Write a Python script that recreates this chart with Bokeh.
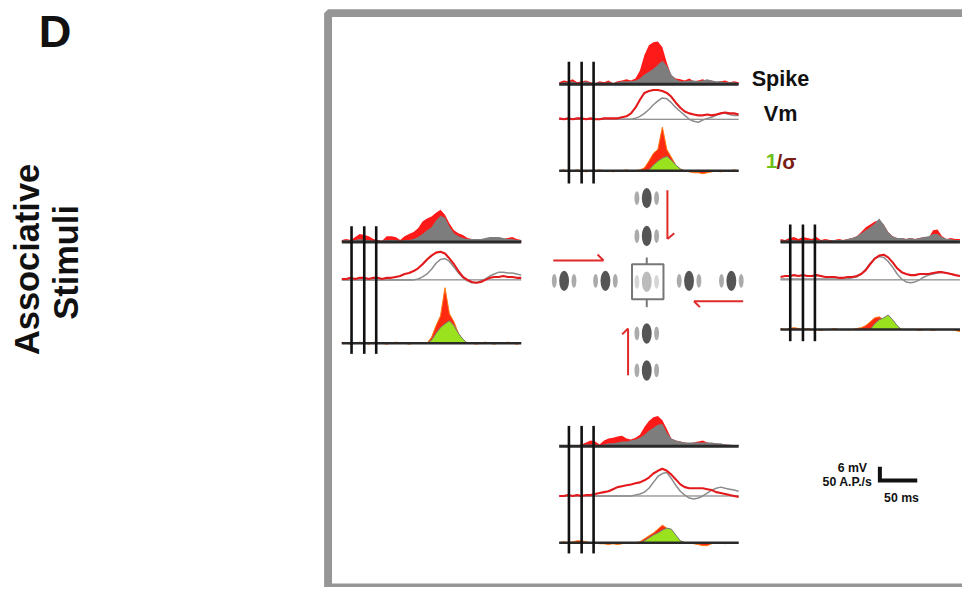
import math
from bokeh.plotting import figure
from bokeh.models import Range1d, Label, ColumnDataSource
from bokeh.embed import file_html
from bokeh.resources import INLINE

# ---------------- data ----------------
T_MS = list(range(0, 241, 6))          # sample times, ms
STIM_ONSETS_MS = [13, 30, 46]          # vertical stimulus markers, ms

# spike rate, A.P./s
top_spike_red = [7,14,11,18,7,11,14,7,4,11, 7,14,4,11,14,18,14,21,50,107, 143,154,157,136,79,32,21,18,14,21, 11,14,18,11,14,7,11,14,7,11, 7]
top_spike_grey = [4,7,7,11,4,7,11,4,4,7, 4,7,4,7,11,11,11,14,21,36, 46,57,71,86,68,36,18,11,11,14, 14,11,14,18,14,11,11,7,7,7, 4]
left_spike_red = [7,11,7,18,29,25,21,11,7,4, 21,21,18,7,21,29,36,50,75,86, 93,107,118,100,68,43,32,25,14,11, 11,11,7,11,11,11,11,14,18,11, 7]
left_spike_grey = [4,7,4,7,11,7,7,4,4,4, 7,7,7,4,7,7,11,18,29,43, 54,79,96,89,57,32,21,14,11,11, 11,11,14,18,18,18,14,11,11,7, 7]
right_spike_red = [11,7,14,18,11,18,14,11,18,7, 11,7,7,11,7,11,14,21,36,54, 64,75,79,64,36,21,14,14,11,14, 11,14,18,14,43,46,21,11,14,11, 11]
right_spike_grey = [4,4,7,7,4,7,7,7,7,4, 7,4,7,7,7,11,14,21,32,43, 54,68,86,64,36,21,14,14,11,14, 11,14,18,21,29,29,18,11,11,7, 7]
bottom_spike_red = [4,0,4,4,4,7,14,21,18,7, 21,29,32,36,39,29,25,32,43,71, 93,107,111,96,64,29,21,18,14,11, 14,18,21,14,11,11,7,7,4,4, 4]
bottom_spike_grey = [4,0,4,4,4,4,7,7,7,4, 7,11,11,14,18,18,21,25,32,43, 57,68,79,82,50,29,21,18,14,14, 14,14,14,14,14,11,11,7,7,4, 4]

# membrane potential, mV
top_vm_red = [0.4,0,0.4,0,0.4,0.4,0,0.4,0,0, 0.4,0.4,0.4,0.4,0.9,1.3,2.6,5.1,8.6,11.6, 12.4,12.9,12.9,12.4,11.6,9.9,7.3,5.1,3.4,2.6, 2.1,1.7,1.7,2.1,1.7,2.1,2.6,3.0,2.6,2.6, 2.1]
top_vm_grey = [0,0,0,0,0,0,0,0,0,0, 0,0,0,0,0,0,0,0.4,1.3,2.6, 4.3,6.4,8.1,9.4,9.0,7.3,5.1,3.4,1.7,0, -0.9,-1.3,-0.4,0.4,0.9,1.7,2.6,2.6,2.1,1.7, 1.7]
left_vm_red = [0.4,0.4,0.9,0.4,0.9,0.9,0.4,0.9,0.9,0.4, 0.9,0.9,1.3,1.7,2.6,3.0,3.9,5.1,6.9,9.0, 10.7,12.0,12.4,11.6,9.4,6.9,3.9,1.3,0,-0.9, -1.3,-0.9,0,0.9,1.3,1.3,1.7,1.3,1.3,0.9, 0.9]
left_vm_grey = [0,0,0,0,0,0,0,0,0,0, 0,0,0,0,0,0,0,0.4,1.3,2.6, 4.7,7.3,9.0,9.4,8.1,5.6,3.0,0.9,-0.4,-1.3, -1.3,-0.4,0.4,1.7,2.6,3.4,3.4,3.0,3.0,2.6, 2.1]
right_vm_red = [1.3,1.7,1.7,2.1,1.7,2.1,1.7,1.7,2.1,1.7, 1.3,1.3,1.3,0.9,0.9,1.3,1.3,1.7,2.6,4.3, 6.9,9.4,10.7,11.1,9.9,7.7,5.1,3.4,2.6,2.1, 2.1,2.6,2.6,2.6,3.0,3.4,3.4,3.0,2.6,2.1, 1.7]
right_vm_grey = [0.4,0.4,0.4,0.4,0.4,0.4,0.4,0.4,0.4,0.4, 0.4,0.4,0.4,0.4,0.4,0.4,0.9,1.3,2.6,4.7, 7.3,9.4,10.3,9.9,8.1,5.6,2.6,0.4,-0.9,-1.3, -0.9,0,1.3,2.1,2.6,3.0,3.4,3.0,2.6,2.1, 1.7]
bottom_vm_red = [0,0,0.4,0,0.4,0,0.4,0.4,0.9,1.3, 1.7,2.1,3.0,3.9,4.3,4.7,5.1,5.6,6.0,6.9, 8.1,9.9,11.1,12.0,11.1,9.4,7.3,5.1,3.9,3.4, 3.4,3.4,3.4,3.0,2.6,1.7,1.3,0.9,0.4,0, -0.4]
bottom_vm_grey = [0,0,0,0,0,0,0,0,0,0, 0,0,0,0,0,0,0,0.4,0.9,1.7, 3.4,6.0,8.6,9.9,10.3,7.7,4.7,2.1,0.4,-0.9, -1.3,-0.9,0,1.3,2.6,3.4,3.9,3.4,3.0,2.6, 2.1]

# reliability 1/sigma, 1/mV
top_sig_red = [0,0.07,-0.07,0,0.07,0,-0.07,0,0,0.07, 0,0,-0.07,0,0,0.07,0,0,0.07,0.2, 0.67,1.2,1.47,3.0,1.47,0.93,0.4,0.13,0,-0.07, -0.13,-0.13,-0.2,-0.13,-0.07,0,-0.07,0,0,0.07, 0]
top_sig_green = [0,0,0,0,0,0,0,0,0,0, 0,0,0,0,0,0,0,0,0,0, 0.07,0.4,0.67,0.87,1.0,0.73,0.4,0.13,0,0, 0,0,0,0,0,0,0,0,0,0, 0]
left_sig_red = [0.07,0,-0.07,0,0.07,0,-0.07,0.07,0,0, -0.07,0,0.07,0,0,-0.07,0,0,0,0, 0.4,1.2,1.87,3.8,2.0,1.47,0.67,0.2,0,0, -0.07,0,0.07,0,-0.07,0,0,0.07,0,-0.07, 0]
left_sig_green = [0,0,0,0,0,0,0,0,0,0, 0,0,0,0,0,0,0,0,0,0, 0.2,0.67,1.07,1.33,1.53,1.2,0.67,0.27,0,0, 0,0,0,0,0,0,0,0,0,0, 0]
right_sig_red = [0.07,0,0.07,0.13,0.07,0,0.07,0,0,-0.07, 0,0,0.07,0,0,0,0,0.07,0.13,0.27, 0.53,0.8,0.87,0.67,0.6,0.33,0.13,0,0,0, 0,-0.07,0,0,-0.07,0,0,0,0,-0.07, -0.13]
right_sig_green = [0,0,0,0,0,0,0,0,0,0, 0,0,0,0,0,0,0,0,0,0, 0,0.4,0.67,0.8,1.0,0.67,0.27,0,0,0, 0,0,0,0,0,0,0,0,0,0, 0]
bottom_sig_red = [0,0.07,0,0.07,0.13,0.13,0.07,0,0,-0.07, -0.07,-0.13,-0.07,-0.13,-0.07,0,0,0,0.07,0.27, 0.47,0.67,0.93,1.2,1.0,0.8,0.4,0.13,0,0, -0.07,-0.13,-0.2,-0.2,-0.07,0,0,-0.07,0,0, 0]
bottom_sig_green = [0,0,0,0,0,0,0,0,0,0, 0,0,0,0,0,0,0,0,0,0.13, 0.33,0.53,0.67,0.87,1.0,0.93,0.53,0.13,0,0, 0,0,0,0,0,0,0,0,0,0, 0]

SCALE_BAR_MS = 50
SCALE_BAR_MV = 6

# ---------------- layout / styles ----------------
FONT = "Liberation Sans"
W, H = 962, 587
PX0, PX1, PY0, PY1 = 0, 978, 0, 603       # reference canvas units
K = W / (PX1 - PX0)                       # screen px per canvas unit
MS_PX = 0.76          # canvas units per ms
SPIKE_PX = 0.28       # canvas units per A.P./s
VM_PX = 14 / 6        # canvas units per mV
SIG_PX = 15           # canvas units per 1/mV
BASE_FIX = 0.32       # empirical label baseline correction (em), large labels

PANELS = {
    "top":    dict(x0=568, spike=86,  vm=122, sig=175, v0=63,  v1=188),
    "left":   dict(x0=347, spike=248, vm=287, sig=352, v0=232, v1=363),
    "right":  dict(x0=793, spike=248, vm=287, sig=338, v0=230, v1=350),
    "bottom": dict(x0=568, spike=458, vm=509, sig=557, v0=437, v1=568),
}
DATA = {
    "top": (top_spike_red, top_spike_grey, top_vm_red, top_vm_grey, top_sig_red, top_sig_green),
    "left": (left_spike_red, left_spike_grey, left_vm_red, left_vm_grey, left_sig_red, left_sig_green),
    "right": (right_spike_red, right_spike_grey, right_vm_red, right_vm_grey, right_sig_red, right_sig_green),
    "bottom": (bottom_spike_red, bottom_spike_grey, bottom_vm_red, bottom_vm_grey, bottom_sig_red, bottom_sig_green),
}

p = figure(width=W, height=H, output_backend="svg", toolbar_location=None,
           x_range=Range1d(PX0, PX1), y_range=Range1d(PY1, PY0),
           x_axis_location=None, y_axis_location=None, min_border=0)
p.grid.visible = False
p.outline_line_color = None
p.background_fill_color = "white"
p.border_fill_color = "white"


def xr(x0, k):
    return Range1d((PX0 - x0) / k, (PX1 - x0) / k)


def yr(base, k):
    return Range1d((base - PY1) / k, (base - PY0) / k)


# frame
p.quad(left=[333], right=[1000], top=[13], bottom=[603], fill_alpha=0,
       line_color="#969696", line_width=8 * K)

for name, L in PANELS.items():
    sr, sg, vr, vg, gr, gg = DATA[name]
    src = ColumnDataSource(dict(t=T_MS, sr=sr, sg=sg, vr=vr, vg=vg, gr=gr, gg=gg))
    xn, ys, yv, yg = "x_" + name, "ys_" + name, "yv_" + name, "yg_" + name
    p.extra_x_ranges[xn] = xr(L["x0"], MS_PX)
    p.extra_y_ranges[ys] = yr(L["spike"], SPIKE_PX)
    p.extra_y_ranges[yv] = yr(L["vm"], VM_PX)
    p.extra_y_ranges[yg] = yr(L["sig"], SIG_PX)
    t0, t1 = T_MS[0], T_MS[-1]

    # spike rates
    p.varea(x="t", y1=0, y2="sr", source=src, fill_color="#ff1a1a",
            x_range_name=xn, y_range_name=ys)
    p.varea(x="t", y1=0, y2="sg", source=src, fill_color="#7d7d7d",
            x_range_name=xn, y_range_name=ys)
    p.segment(x0=[t0], x1=[t1], y0=[0], y1=[0], line_color="#2a2a2a", line_width=3,
              x_range_name=xn, y_range_name=ys)

    # Vm
    p.segment(x0=[t0], x1=[t1], y0=[0], y1=[0], line_color="#6e6e6e", line_width=1,
              x_range_name=xn, y_range_name=yv)
    p.line(x="t", y="vg", source=src, line_color="#8c8c8c", line_width=1.5,
           x_range_name=xn, y_range_name=yv)
    p.line(x="t", y="vr", source=src, line_color="#e3191c", line_width=2.1,
           x_range_name=xn, y_range_name=yv)

    # 1/sigma
    p.varea(x="t", y1=0, y2="gr", source=src, fill_color="#ff2a10",
            x_range_name=xn, y_range_name=yg)
    p.line(x="t", y="gr", source=src, line_color="#ff7a10", line_width=1,
           x_range_name=xn, y_range_name=yg)
    p.varea(x="t", y1=0, y2="gg", source=src, fill_color="#9be21e",
            x_range_name=xn, y_range_name=yg)
    p.line(x="t", y="gg", source=src, line_color="#777777", line_width=1,
           x_range_name=xn, y_range_name=yg)
    p.segment(x0=[t0], x1=[t1], y0=[0], y1=[0], line_color="#2a2a2a", line_width=2.5,
              x_range_name=xn, y_range_name=yg)

    # stimulus onset markers
    n = len(STIM_ONSETS_MS)
    p.segment(x0=STIM_ONSETS_MS, x1=STIM_ONSETS_MS, y0=[L["v0"]] * n, y1=[L["v1"]] * n,
              line_color="#111111", line_width=2.6, x_range_name=xn)

# stimuli icons (cross of bars)
STIM_POS = [(657, 203), (657, 242), (657, 342), (657, 380),
            (573, 288), (615, 288), (700, 288), (743, 288)]
cx = [s[0] for s in STIM_POS]
cy = [s[1] for s in STIM_POS]
p.ellipse(x=[x - 10 for x in cx] + [x + 10 for x in cx], y=cy + cy, width=5, height=14,
          fill_color="#ababab", line_color=None)
p.ellipse(x=cx, y=cy, width=10, height=21, fill_color="#555555", line_color=None)
# center (receptive field) stimulus
p.ellipse(x=[647, 667], y=[289, 289], width=5, height=14, fill_color="#d6d6d6", line_color=None)
p.ellipse(x=[657], y=[289], width=10, height=21, fill_color="#bcbcbc", line_color=None)
p.quad(left=[642], right=[674], top=[271], bottom=[307], fill_alpha=0,
       line_color="#777777", line_width=2)
p.segment(x0=[657, 657], x1=[657, 657], y0=[264, 307], y1=[271, 315],
          line_color="#777777", line_width=2)

# red motion arrows
AR = "#e02a2a"
p.segment(x0=[678, 678, 562, 613, 755, 705, 638, 638],
          y0=[195, 245, 267, 267, 309, 309, 385, 337],
          x1=[678, 685, 613, 607, 705, 711, 638, 632],
          y1=[245, 239, 267, 261, 309, 315, 337, 343],
          line_color=AR, line_width=2)

# scale bar
p.extra_x_ranges["x_sb"] = xr(894, MS_PX)
p.extra_y_ranges["y_sb"] = yr(493, VM_PX)
p.line(x=[0, 0, SCALE_BAR_MS], y=[SCALE_BAR_MV, 0, 0], line_color="#111111", line_width=4,
       line_join="miter", x_range_name="x_sb", y_range_name="y_sb")


def lab(x, y, text, size, color="#111111", align="left", angle=0, fix=True):
    if fix:
        if angle:
            x = x - BASE_FIX * size
        else:
            y = y - BASE_FIX * size
    p.add_layout(Label(x=x, y=y, text=text, text_font=FONT, text_font_style="bold",
                       text_font_size=f"{size * K:.1f}px", text_color=color, text_align=align,
                       text_baseline="alphabetic", angle=angle))


lab(39, 47, "D", 46)
lab(38, 266, "Associative", 35, align="center", angle=math.pi / 2)
lab(78, 269, "Stimuli", 35, align="center", angle=math.pi / 2)
lab(793, 87, "Spike", 22, align="center")
lab(793, 123, "Vm", 22, align="center")
lab(778, 172, "1", 21, color="#6fbf1a")
lab(789, 172, "/\u03c3", 21, color="#7a1e14")
lab(866, 480.5, "6 mV", 12.5, align="center", fix=False)
lab(861, 494.5, "50 A.P./s", 12.5, align="center", fix=False)
lab(916, 511.5, "50 ms", 12.5, align="center", fix=False)

open("out.html", "w").write(file_html(p, INLINE))
